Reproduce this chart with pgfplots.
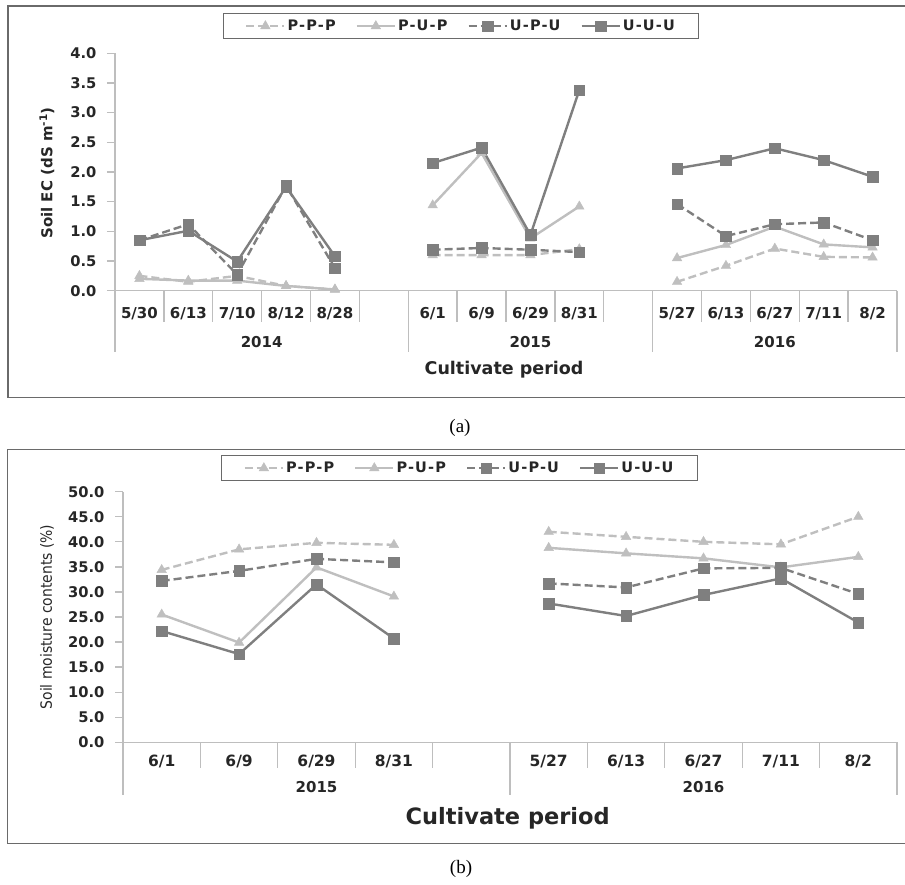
\documentclass[border=0pt]{standalone}
\usepackage{fontspec}
\setmainfont{DejaVu Sans}
\newfontfamily\legfont{DejaVu Sans}[LetterSpace=8]
\newfontfamily\condfont{DejaVu Sans Condensed}
\newfontfamily\seriffont{Liberation Serif}
\usepackage{pgfplots}
\usepackage{pgfplotstable}
\pgfplotsset{compat=1.18}

\definecolor{lgray}{HTML}{BFBFBF}
\definecolor{dgray}{HTML}{7F7F7F}
\definecolor{axgray}{HTML}{BEBEBE}
\definecolor{frgray}{HTML}{6A6A6A}
\definecolor{txt}{HTML}{262626}

\pgfplotstableread{
x ppp pup upu uuu
0 0.25 0.20 0.85 0.85
1 0.15 0.17 1.12 1.01
2 0.25 0.17 0.27 0.49
3 0.08 0.08 1.77 1.75
4 0.02 0.02 0.38 0.58
5 nan nan nan nan
6 0.60 1.44 0.69 2.15
7 0.60 2.32 0.72 2.41
8 0.60 0.88 0.69 0.94
9 0.70 1.42 0.65 3.38
10 nan nan nan nan
11 0.15 0.55 1.46 2.06
12 0.42 0.77 0.92 2.20
13 0.71 1.08 1.12 2.40
14 0.57 0.78 1.15 2.20
15 0.56 0.73 0.85 1.92
}\ectable

\pgfplotstableread{
x ppp pup upu uuu
0 34.4 25.5 32.2 22.2
1 38.5 19.9 34.2 17.6
2 39.8 34.9 36.6 31.5
3 39.4 29.1 35.9 20.7
4 nan nan nan nan
5 42.0 38.8 31.7 27.7
6 41.0 37.7 30.9 25.2
7 40.0 36.7 34.7 29.4
8 39.5 34.9 34.8 32.7
9 45.0 37.0 29.6 23.9
}\smtable

\pgfplotsset{
  ppp/.style={lgray, line width=2.4pt, dash pattern=on 8pt off 4pt, mark=triangle*, mark size=5.5pt, mark options={solid, fill=lgray, draw=lgray, line width=0.4pt}},
  pup/.style={lgray, line width=2.4pt, mark=triangle*, mark size=5.5pt, mark options={solid, fill=lgray, draw=lgray, line width=0.4pt}},
  upu/.style={dgray, line width=2.4pt, dash pattern=on 8pt off 4pt, mark=square*, mark size=5.3pt, mark options={solid, fill=dgray, draw=dgray, line width=0.4pt}},
  uuu/.style={dgray, line width=2.4pt, mark=square*, mark size=5.3pt, mark options={solid, fill=dgray, draw=dgray, line width=0.4pt}},
  common/.style={
    scale only axis, clip=false, unbounded coords=jump,
    axis x line*=bottom, axis y line*=left,
    axis line style={axgray, line width=1.3pt, -},
    x tick style={draw=none},
    y tick style={axgray, line width=1.3pt},
    tick align=outside, major tick length=8pt,
    /pgf/number format/fixed, /pgf/number format/fixed zerofill,
    /pgf/number format/precision=1, /pgf/number format/assume math mode=true,
    yticklabel style={font=\bfseries\fontsize{14.7}{16}\selectfont, text=txt, xshift=-7pt},
    legend columns=4,
    legend cell align=left,
    legend image code/.code={\draw[mark repeat=2,mark phase=2,##1] plot coordinates {(0pt,0pt) (19pt,0pt) (38pt,0pt)};},
    legend style={anchor=north, draw=frgray, line width=1.2pt, fill=white,
      font=\legfont\bfseries\fontsize{14.5}{16}\selectfont, text=txt,
      inner xsep=22pt, inner ysep=4.5pt,
      /tikz/every even column/.append style={column sep=18pt}},
  },
}

\begin{document}
\begin{tikzpicture}[x=1pt,y=1pt]
\useasboundingbox (0,0) rectangle (905,884);
% frames
\draw[frgray, line width=1.5pt] (8,486.3) rectangle (910,878);
\draw[frgray, line width=1.5pt] (7.3,40.7) rectangle (910,434.7);

% ---------- (a) ----------
\begin{axis}[common,
  at={(115pt,593.3pt)}, anchor=south west, width=782pt, height=237.4pt,
  xmin=-0.5, xmax=15.5, ymin=0, ymax=4,
  ytick={0,0.5,1,1.5,2,2.5,3,3.5,4},
  xtick={0,1,2,3,4,6,7,8,9,11,12,13,14,15},
  xticklabels={5/30,6/13,7/10,8/12,8/28,6/1,6/9,6/29,8/31,5/27,6/13,6/27,7/11,8/2},
  xticklabel style={font=\bfseries\fontsize{15}{16}\selectfont, text=txt, anchor=base, yshift=-20pt},
  legend style={at={(0.4425,1.17)}},
]
\addplot[ppp] table[x=x,y=ppp]{\ectable};
\addplot[pup] table[x=x,y=pup]{\ectable};
\addplot[upu] table[x=x,y=upu]{\ectable};
\addplot[uuu] table[x=x,y=uuu]{\ectable};
\legend{P-P-P,P-U-P,U-P-U,U-U-U}
\pgfplotsinvokeforeach{0.5,1.5,2.5,3.5,4.5,6.5,7.5,8.5,9.5,11.5,12.5,13.5,14.5}{
  \draw[axgray, line width=1.3pt] (axis cs:#1,0) -- ([yshift=-31.3pt]axis cs:#1,0);
}
\pgfplotsinvokeforeach{-0.5,5.5,10.5,15.5}{
  \draw[axgray, line width=1.3pt] (axis cs:#1,0) -- ([yshift=-61.3pt]axis cs:#1,0);
}
\node[anchor=base, yshift=-56.8pt, font=\bfseries\fontsize{15}{16}\selectfont, text=txt] at (axis cs:2.5,0) {2014};
\node[anchor=base, yshift=-56.8pt, font=\bfseries\fontsize{15}{16}\selectfont, text=txt] at (axis cs:8,0) {2015};
\node[anchor=base, yshift=-56.8pt, font=\bfseries\fontsize{15}{16}\selectfont, text=txt] at (axis cs:13,0) {2016};
\node[anchor=base, yshift=-84.3pt, font=\bfseries\fontsize{17.5}{19}\selectfont, text=txt] at (axis cs:7.46,0) {Cultivate period};
\end{axis}
\node[rotate=90, font=\bfseries\fontsize{15}{17}\selectfont, text=txt] at (47,711) {Soil EC (dS m\textsuperscript{-1})};
\node[font=\seriffont\fontsize{19}{21}\selectfont] at (460,456) {(a)};

% ---------- (b) ----------
\begin{axis}[common,
  at={(123pt,141.7pt)}, anchor=south west, width=774pt, height=250.6pt,
  xmin=-0.5, xmax=9.5, ymin=0, ymax=50,
  ytick={0,5,10,15,20,25,30,35,40,45,50},
  xtick={0,1,2,3,5,6,7,8,9},
  xticklabels={6/1,6/9,6/29,8/31,5/27,6/13,6/27,7/11,8/2},
  xticklabel style={font=\bfseries\fontsize{15.5}{17}\selectfont, text=txt, anchor=base, yshift=-16pt},
  legend style={at={(0.4348,1.1465)}},
]
\addplot[ppp] table[x=x,y=ppp]{\smtable};
\addplot[pup] table[x=x,y=pup]{\smtable};
\addplot[upu] table[x=x,y=upu]{\smtable};
\addplot[uuu] table[x=x,y=uuu]{\smtable};
\legend{P-P-P,P-U-P,U-P-U,U-U-U}
\pgfplotsinvokeforeach{0.5,1.5,2.5,3.5,5.5,6.5,7.5,8.5}{
  \draw[axgray, line width=1.3pt] (axis cs:#1,0) -- ([yshift=-25.7pt]axis cs:#1,0);
}
\pgfplotsinvokeforeach{-0.5,4.5,9.5}{
  \draw[axgray, line width=1.3pt] (axis cs:#1,0) -- ([yshift=-52.7pt]axis cs:#1,0);
}
\node[anchor=base, yshift=-50.2pt, font=\bfseries\fontsize{15}{16}\selectfont, text=txt] at (axis cs:2,0) {2015};
\node[anchor=base, yshift=-50.2pt, font=\bfseries\fontsize{15}{16}\selectfont, text=txt] at (axis cs:7,0) {2016};
\node[anchor=base, yshift=-81.7pt, font=\bfseries\fontsize{22.5}{24}\selectfont, text=txt] at (axis cs:4.47,0) {Cultivate period};
\end{axis}
\node[rotate=90, font=\condfont\fontsize{15.5}{17}\selectfont, text=txt] at (47,267) {Soil moisture contents (\%)};
\node[font=\seriffont\fontsize{19}{21}\selectfont] at (461,15) {(b)};
\end{tikzpicture}
\end{document}
